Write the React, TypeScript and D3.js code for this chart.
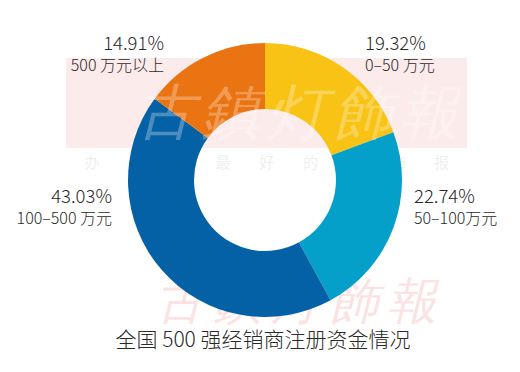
import React from "react";
import * as d3 from "d3";

// registered capital ranges of the top 500 dealers
const ranges = ["0–50 万元", "50–100万元", "100–500 万元", "500 万元以上"];
const shares = [19.32, 22.74, 43.03, 14.91];
const colors = ["#F8C314", "#05A0CA", "#0561A5", "#EA7411"];
const title = "全国 500 强经销商注册资金情况";

const width = 520;
const height = 372;
const cx = 265;
const cy = 180;
const outerR = 137;
const innerR = 71;

// where each pair of label lines sits (x, baseline of first line, anchor)
const labelLayout = [
  { x: 365, y: 50, anchor: "start" },
  { x: 414, y: 203, anchor: "start" },
  { x: 112, y: 203, anchor: "end" },
  { x: 164, y: 50, anchor: "end" },
];

const font = "'Noto Sans CJK SC', 'Noto Sans', sans-serif";

const App = () => {
  const pie = d3
    .pie<number>()
    .sort(null)
    .value((d) => d);
  const arc = d3
    .arc<d3.PieArcDatum<number>>()
    .innerRadius(innerR)
    .outerRadius(outerR);
  const slices = pie(shares);

  const motto = "办中国最好的灯饰报".split("");

  return (
    <svg
      width={width}
      height={height}
      style={{ position: "absolute", left: 0, top: 0, background: "#fff" }}
    >
      {/* watermark band */}
      <rect x={66} y={58} width={401} height={90} fill="#FBEBEB" />
      <g fill="#EFEFEF" fontFamily={font} fontSize={15}>
        {motto.map((c, i) => (
          <text key={i} x={92 + i * 43.7} y={168} textAnchor="middle">
            {c}
          </text>
        ))}
      </g>
      <text
        x={300}
        y={318}
        textAnchor="middle"
        fontFamily="'DejaVu Serif', serif"
        fontStyle="italic"
        fontSize={50}
        fill="#FBE3E3"
        letterSpacing={8}
      >
        古鎮灯飾報
      </text>

      <g transform={`translate(${cx},${cy})`}>
        {slices.map((s, i) => (
          <path key={i} d={arc(s) || ""} fill={colors[i]} />
        ))}
      </g>

      {/* watermark over the band */}
      <text
        x={300}
        y={133}
        textAnchor="middle"
        fontFamily="'DejaVu Serif', serif"
        fontStyle="italic"
        fontSize={60}
        fill="#ffffff"
        fillOpacity={0.28}
        letterSpacing={6}
      >
        古鎮灯飾報
      </text>

      <g fontFamily={font} fontWeight={300} fill="#2a2a2a">
        {labelLayout.map((l, i) => (
          <g key={i}>
            <text x={l.x} y={l.y} textAnchor={l.anchor} fontSize={18.5}>
              {shares[i].toFixed(2)}%
            </text>
            <text x={l.x} y={l.y + 21} textAnchor={l.anchor} fontSize={16}>
              {ranges[i]}
            </text>
          </g>
        ))}
        <text x={263} y={347} textAnchor="middle" fontSize={21}>
          {title}
        </text>
      </g>
    </svg>
  );
};

export default App;
